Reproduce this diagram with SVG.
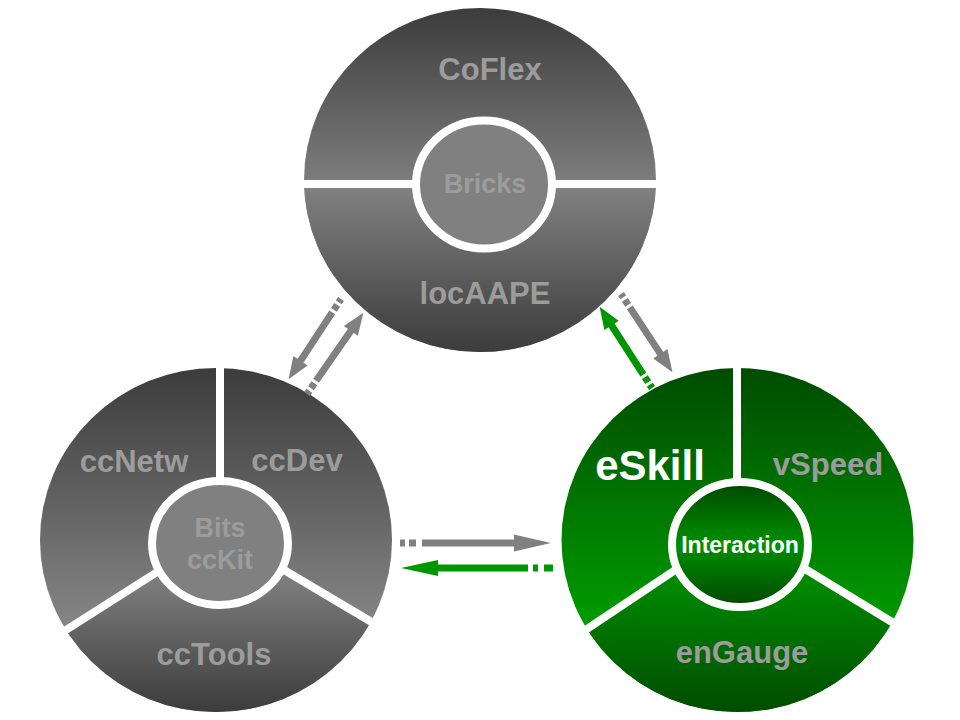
<svg xmlns="http://www.w3.org/2000/svg" width="960" height="720" viewBox="0 0 960 720">
  <style>
    .lbl { font-family: "Liberation Sans", Arial, sans-serif; font-weight: bold; text-anchor: middle; }
    .g { fill: #9c9c9c; }
    .w { fill: #ffffff; }
    .div { stroke: #ffffff; stroke-width: 8; fill: none; }
    .ring { stroke: #ffffff; stroke-width: 8; }
    .arr { fill: none; stroke-width: 7; }
  </style>
  <defs>
    <linearGradient id="topUpper" gradientUnits="userSpaceOnUse" x1="0" y1="8" x2="0" y2="184">
      <stop offset="0" stop-color="#3c3c3c"/><stop offset="1" stop-color="#7e7e7e"/>
    </linearGradient>
    <linearGradient id="topLower" gradientUnits="userSpaceOnUse" x1="0" y1="184" x2="0" y2="352">
      <stop offset="0" stop-color="#828282"/><stop offset="1" stop-color="#3c3c3c"/>
    </linearGradient>
    <linearGradient id="leftUpper" gradientUnits="userSpaceOnUse" x1="0" y1="368" x2="0" y2="625">
      <stop offset="0" stop-color="#3c3c3c"/><stop offset="1" stop-color="#858585"/>
    </linearGradient>
    <linearGradient id="leftLower" gradientUnits="userSpaceOnUse" x1="0" y1="570" x2="0" y2="711">
      <stop offset="0" stop-color="#828282"/><stop offset="1" stop-color="#3c3c3c"/>
    </linearGradient>
    <linearGradient id="greenUpper" gradientUnits="userSpaceOnUse" x1="0" y1="368" x2="0" y2="625">
      <stop offset="0" stop-color="#004c00"/><stop offset="1" stop-color="#009c00"/>
    </linearGradient>
    <linearGradient id="greenLower" gradientUnits="userSpaceOnUse" x1="0" y1="570" x2="0" y2="711">
      <stop offset="0" stop-color="#009000"/><stop offset="1" stop-color="#004c00"/>
    </linearGradient>
    <linearGradient id="greenCenter" gradientUnits="userSpaceOnUse" x1="0" y1="482" x2="0" y2="607">
      <stop offset="0" stop-color="#004800"/><stop offset="0.5" stop-color="#009000"/><stop offset="1" stop-color="#004800"/>
    </linearGradient>
    <clipPath id="clipTopLower"><rect x="290" y="184" width="380" height="180"/></clipPath>
    <clipPath id="clipLeftLower"><polygon points="220,532 -33,694 -33,760 480,760 479,684"/></clipPath>
    <clipPath id="clipGreenLower"><polygon points="738,528 482,700 482,760 1000,760 997,686"/></clipPath>
    <marker id="hGray" markerUnits="userSpaceOnUse" orient="auto" refX="1" refY="0" markerWidth="40" markerHeight="20" overflow="visible">
      <path d="M0,-8.5 L37,0 L0,8.5 z" fill="#808080"/>
    </marker>
    <marker id="hGreen" markerUnits="userSpaceOnUse" orient="auto" refX="1" refY="0" markerWidth="40" markerHeight="20" overflow="visible">
      <path d="M0,-8 L37,0 L0,8 z" fill="#009600"/>
    </marker>
    <marker id="dGray" markerUnits="userSpaceOnUse" orient="auto" refX="1" refY="0" markerWidth="25" markerHeight="20" overflow="visible">
      <path d="M0,-8.5 L22,0 L0,8.5 z" fill="#808080"/>
    </marker>
    <marker id="dGreen" markerUnits="userSpaceOnUse" orient="auto" refX="1" refY="0" markerWidth="25" markerHeight="20" overflow="visible">
      <path d="M0,-8.5 L22,0 L0,8.5 z" fill="#009600"/>
    </marker>
  </defs>

  <g id="node-bricks">
    <ellipse cx="480" cy="180" rx="176" ry="172" fill="url(#topUpper)"/>
    <ellipse cx="480" cy="180" rx="176" ry="172" fill="url(#topLower)" clip-path="url(#clipTopLower)"/>
    <line class="div" x1="295" y1="184" x2="665" y2="184"/>
    <ellipse class="ring" cx="484" cy="184.5" rx="68" ry="64" fill="#808080"/>
    <text class="lbl g" x="490" y="80" font-size="31">CoFlex</text>
    <text class="lbl g" x="485" y="193" font-size="27">Bricks</text>
    <text class="lbl g" x="485" y="304" font-size="31">locAAPE</text>
  </g>

  <g id="node-bits">
    <ellipse cx="216" cy="540" rx="176" ry="172" fill="url(#leftUpper)"/>
    <ellipse cx="216" cy="540" rx="176" ry="172" fill="url(#leftLower)" clip-path="url(#clipLeftLower)"/>
    <line class="div" x1="220" y1="360" x2="220" y2="540"/>
    <line class="div" x1="220" y1="532" x2="55" y2="637"/>
    <line class="div" x1="220" y1="532" x2="385" y2="630"/>
    <ellipse class="ring" cx="220" cy="543" rx="68" ry="62" fill="#808080"/>
    <text class="lbl g" x="134" y="472" font-size="31">ccNetw</text>
    <text class="lbl g" x="297" y="471" font-size="31">ccDev</text>
    <text class="lbl g" x="220" y="537" font-size="27">Bits</text>
    <text class="lbl g" x="220" y="569" font-size="27">ccKit</text>
    <text class="lbl g" x="214" y="665" font-size="31">ccTools</text>
  </g>

  <g id="node-interaction">
    <ellipse cx="737.5" cy="540" rx="176" ry="172" fill="url(#greenUpper)"/>
    <ellipse cx="737.5" cy="540" rx="176" ry="172" fill="url(#greenLower)" clip-path="url(#clipGreenLower)"/>
    <line class="div" x1="737" y1="360" x2="737" y2="540"/>
    <line class="div" x1="738" y1="528" x2="575" y2="637"/>
    <line class="div" x1="738" y1="528" x2="905" y2="630"/>
    <ellipse class="ring" cx="740" cy="544.5" rx="68" ry="62.5" fill="url(#greenCenter)"/>
    <text class="lbl w" x="650" y="480" font-size="42">eSkill</text>
    <text class="lbl g" x="828" y="475" font-size="31">vSpeed</text>
    <text class="lbl w" x="740" y="553" font-size="23">Interaction</text>
    <text class="lbl g" x="742" y="663" font-size="31">enGauge</text>
  </g>

  <g id="connectors">
    <path class="arr" stroke="#808080" stroke-dasharray="4 3 6 3 400" d="M341,299 L300,361.6" marker-end="url(#dGray)"/>
    <path class="arr" stroke="#808080" stroke-dasharray="4 3 6 3 400" d="M307,394 L351.4,330.1" marker-end="url(#dGray)"/>
    <path class="arr" stroke="#009600" stroke-dasharray="4 3 6 3 400" d="M652,388 L611,324.5" marker-end="url(#dGreen)"/>
    <path class="arr" stroke="#808080" stroke-dasharray="4 3 6 3 400" d="M621,294 L660.9,354.6" marker-end="url(#dGray)"/>
    <path class="arr" stroke="#808080" stroke-dasharray="5 4 7 6 400" d="M400,543 L515,543" marker-end="url(#hGray)"/>
    <path class="arr" stroke="#009600" stroke-dasharray="9 6 5 5 400" d="M553,568 L437,568" marker-end="url(#hGreen)"/>
  </g>
</svg>
